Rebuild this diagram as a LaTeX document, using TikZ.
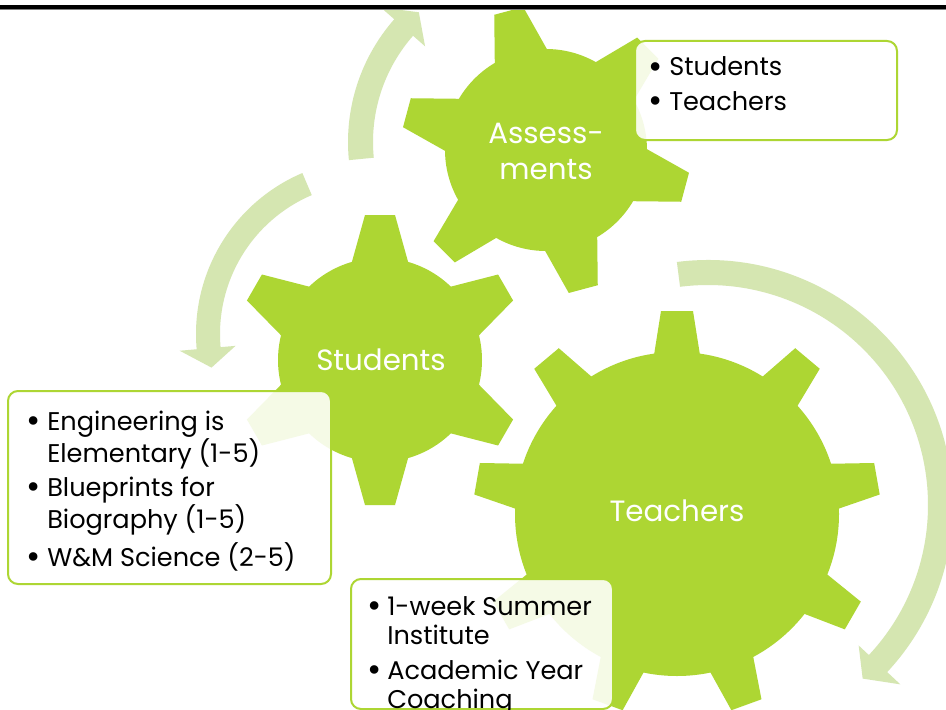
\documentclass[tikz,border=0pt]{standalone}
\usepackage{fontspec}
\setmainfont{Poppins}
\usepackage{array}

\definecolor{gearlime}{RGB}{173,214,51}
\definecolor{arrowpale}{RGB}{213,230,177}
\definecolor{rulegray}{RGB}{128,128,128}

\tikzset{
  gearfill/.style={fill=gearlime},
  cyclearrow/.style={fill=arrowpale},
  gearlabel/.style={text=white, inner sep=0pt, align=center,
    font=\fontsize{22}{27}\selectfont},
  infobox/.style={draw=gearlime, line width=1.5pt, rounded corners=7.5pt,
    fill=white, fill opacity=0.88, inner sep=0pt, anchor=north west},
  infotext/.style={anchor=base west, inner sep=0pt, text=black,
    font=\fontsize{19.2}{21.75}\selectfont},
}

% a larger list dot
\newcommand{\listdot}{\raisebox{-1.6pt}{\fontsize{26}{26}\selectfont •}}

% gear: centre x, centre y, body radius, tip radius, teeth, phase,
%       half width at tip, half width at body
\newcommand{\gearbody}[8]{%
  \begin{scope}[shift={(#1,#2)}]
    \fill[gearfill] (0,0) circle[radius=#3];
    \foreach \k in {1,...,#5}{
      \fill[gearfill, rotate={#6+360/#5*\k}]
        ({#3-12},{-(#8+12*(#8-#7)/(#4-#3))}) -- (#4,-#7) -- (#4,#7)
        -- ({#3-12},{#8+12*(#8-#7)/(#4-#3)}) -- cycle;
    }
  \end{scope}}

% curved arrow: centre x, centre y, inner r, outer r, start angle,
%               head base angle, tip angle, inner wing r, outer wing r
\newcommand{\bentarrow}[9]{%
  \fill[cyclearrow, shift={(#1,#2)}]
    (#5:#4) arc[start angle=#5, end angle=#6, radius=#4]
    -- (#6:#9) -- (#7:{(#3+#4)/2}) -- (#6:#8) -- (#6:#3)
    arc[start angle=#6, end angle=#5, radius=#3] -- cycle;}

\begin{document}
\begin{tikzpicture}[x=0.75pt, y=0.75pt]
  \useasboundingbox (0,0) rectangle (946,-710);
  \fill[white] (0,0) rectangle (946,-710);

  \begin{scope}
    \clip (0,-10) rectangle (946,-710);

    % cycle arrows
    \bentarrow{534}{-142}{161}{186}{185.6}{138.7}{131.6}{145}{204}
    \bentarrow{371}{-334}{151}{175}{113.1}{185}{191.9}{136}{192}
    \bentarrow{708}{-505}{220}{245}{97.3}{-43}{-48.3}{206}{263}

    % gears
    \gearbody{546}{-150}{101}{144}{6}{45}{15}{26}
    \gearbody{380}{-360}{102}{145}{6}{-30}{15}{27}
    \gearbody{677}{-514}{162}{203}{9}{50}{16}{22.5}

    \node[gearlabel] (lblA) at (546,-151) {Assess-\\ments};
    \node[gearlabel] (lblS) at (381,-360) {Students};
    \node[gearlabel] (lblT) at (677,-511) {Teachers};

    % text panels
    \node[infobox, minimum width=196.5pt, minimum height=74.25pt] (boxA) at (634,-40) {};
    \node[infobox, minimum width=242.25pt, minimum height=144.75pt] (boxS) at (7,-390) {};
    \node[infobox, minimum width=196.5pt, minimum height=97.5pt] (boxT) at (350,-578) {};

    \node[infotext] (txtA) at (648,-76) {%
      \begin{tabular}[t]{@{}p{15.75pt}@{}l@{}}
        \listdot & Students\\[3.75pt]
        \listdot & Teachers
      \end{tabular}};
    \node[infotext] (txtS) at (26,-430) {%
      \begin{tabular}[t]{@{}p{15.75pt}@{}l@{}}
        \listdot & Engineering is\\
                 & Elementary (1-5)\\[3.5pt]
        \listdot & Blueprints for\\
                 & Biography (1-5)\\[3.5pt]
        \listdot & W\&M Science (2-5)
      \end{tabular}};
    \node[infotext] (txtT) at (367,-615) {%
      \begin{tabular}[t]{@{}p{15pt}@{}l@{}}
        \listdot & 1-week Summer\\
                 & Institute\\[4.5pt]
        \listdot & Academic Year\\
                 & Coaching
      \end{tabular}};
  \end{scope}

  % top rule
  \fill[black] (0,-5) rectangle (946,-9);
  \fill[rulegray] (0,-9) rectangle (946,-10);
\end{tikzpicture}
\end{document}
